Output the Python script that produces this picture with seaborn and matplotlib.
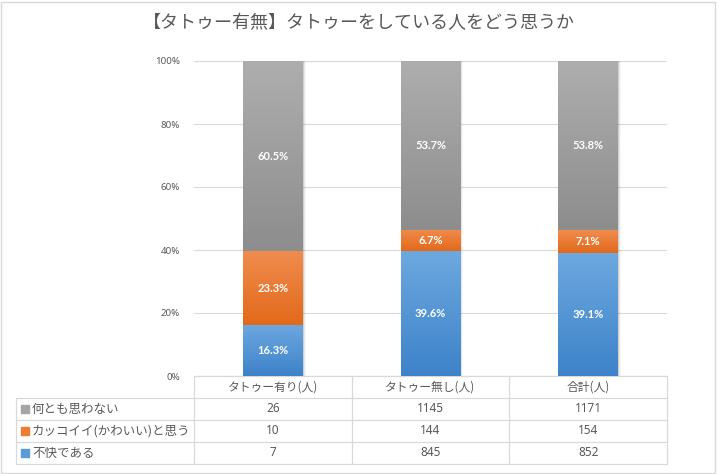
import matplotlib
matplotlib.use("Agg")
import matplotlib.pyplot as plt
import matplotlib.patches as mpatches
from matplotlib.colors import LinearSegmentedColormap
import numpy as np
import pandas as pd
import seaborn as sns

title = "【タトゥー有無】タトゥーをしている人をどう思うか"
groups = ["タトゥー有り(人)", "タトゥー無し(人)", "合計(人)"]
series = ["不快である", "カッコイイ(かわいい)と思う", "何とも思わない"]
unpleasant = [7, 845, 852]
cool = [10, 144, 154]
indifferent = [26, 1145, 1171]
yticks = [0, 20, 40, 60, 80, 100]

# (base, top of gradient, bottom of gradient)
colors = {
    "不快である": ("#5B9BD5", "#6DA8E0", "#3D83C9"),
    "カッコイイ(かわいい)と思う": ("#ED7D31", "#F08C4E", "#E2691A"),
    "何とも思わない": ("#A5A5A5", "#AEAEAE", "#8D8D8D"),
}

counts = pd.DataFrame({"不快である": unpleasant,
                       "カッコイイ(かわいい)と思う": cool,
                       "何とも思わない": indifferent}, index=groups)
pct = counts.div(counts.sum(axis=1), axis=0) * 100
df = pct.reset_index(names="group").melt(id_vars="group", var_name="series", value_name="pct")

sns.set_style("white")
plt.rcParams['font.family'] = ['Noto Sans CJK JP', 'DejaVu Sans']
grey = "#595959"
line = "#D9D9D9"

W, H = 717, 474
fig = plt.figure(figsize=(W / 100, H / 100), dpi=100)
L, R, T, B = 194, 667, 61, 376
ax = fig.add_axes([L / W, 1 - B / H, (R - L) / W, (B - T) / H])

bottom = np.zeros(len(groups))
patch_series = []
for s in series:
    n0 = len(ax.patches)
    sub = df[df["series"] == s]
    sns.barplot(data=sub, x="group", y="pct", order=groups, bottom=bottom,
                color=colors[s][0], width=0.38, errorbar=None, ax=ax,
                saturation=1, linewidth=0, zorder=2)
    patch_series += [s] * (len(ax.patches) - n0)
    for i, g in enumerate(groups):
        v = pct.loc[g, s]
        ax.text(i, bottom[i] + v / 2, f"{v:.1f}%", ha="center", va="center",
                color="white", fontsize=8, fontweight="bold", zorder=5,
                family=['Lato', 'DejaVu Sans'])
    bottom += pct[s].values

# gradient fills + soft shadow
grad = np.linspace(0, 1, 200).reshape(-1, 1)
for p, s in zip(list(ax.patches), patch_series):
    x0, y0, w, h = p.get_x(), p.get_y(), p.get_width(), p.get_height()
    cmap = LinearSegmentedColormap.from_list("g", [colors[s][2], colors[s][1]])
    im = ax.imshow(grad, extent=[x0, x0 + w, y0, y0 + h], origin="lower",
                   aspect="auto", cmap=cmap, zorder=3)
    im.set_clip_path(p)
    for k, a in enumerate([0.10, 0.06, 0.03]):
        ax.add_patch(mpatches.Rectangle((x0 + w, y0), 0.006 * (k + 1), h,
                                        color="black", alpha=a, lw=0, zorder=1))

ax.set_xlim(-0.5, len(groups) - 0.5)
ax.set_ylim(0, 100)
ax.set_yticks(yticks)
ax.set_yticklabels([f"{t}%" for t in yticks], color=grey, fontsize=7,
                   family=['Noto Sans', 'DejaVu Sans'])
ax.tick_params(axis="y", length=0, pad=10)
ax.set_xticks([])
ax.set_xlabel("")
ax.set_ylabel("")
ax.grid(axis="y", color=line, lw=0.8, zorder=0)
ax.set_axisbelow(True)
for sp in ax.spines.values():
    sp.set_visible(False)

# data table below the plot
rh = 22 / (B - T)
lx = (16 - L) / (R - L)
ncol = len(groups)
tkw = dict(transform=ax.transAxes, clip_on=False, color=line, lw=0.9, zorder=1)
ax.plot([0, 1], [0, 0], **tkw)
for k in range(1, 5):
    ax.plot([lx, 1], [-k * rh, -k * rh], **tkw)
for c in range(ncol + 1):
    ax.plot([c / ncol, c / ncol], [0, -4 * rh], **tkw)
ax.plot([lx, lx], [-rh, -4 * rh], **tkw)

for c, g in enumerate(groups):
    ax.text((c + 0.5) / ncol, -0.5 * rh, g, transform=ax.transAxes,
            ha="center", va="center", fontsize=8.5, color=grey)

for r, s in enumerate(reversed(series)):
    yy = -(r + 1.5) * rh
    ax.plot([(25 - L) / (R - L)], [yy], marker="s", ms=5.5, color=colors[s][0],
            transform=ax.transAxes, clip_on=False, lw=0)
    ax.text((32 - L) / (R - L), yy, s, transform=ax.transAxes,
            ha="left", va="center", fontsize=9, color=grey)
    for c, g in enumerate(groups):
        ax.text((c + 0.5) / ncol, yy, f"{counts.loc[g, s]}", transform=ax.transAxes,
                ha="center", va="center", fontsize=8.5, color=grey,
                family=['Noto Sans', 'DejaVu Sans'])

fig.text(0.5, 1 - 23 / H, title, ha="center", va="center", fontsize=13, color=grey)
fig.patches.append(mpatches.Rectangle((1 / W, 1 / H), 1 - 3 / W, 1 - 3 / H,
                                      transform=fig.transFigure, fill=False,
                                      edgecolor=line, lw=1))

fig.savefig("out.png", dpi=100)
